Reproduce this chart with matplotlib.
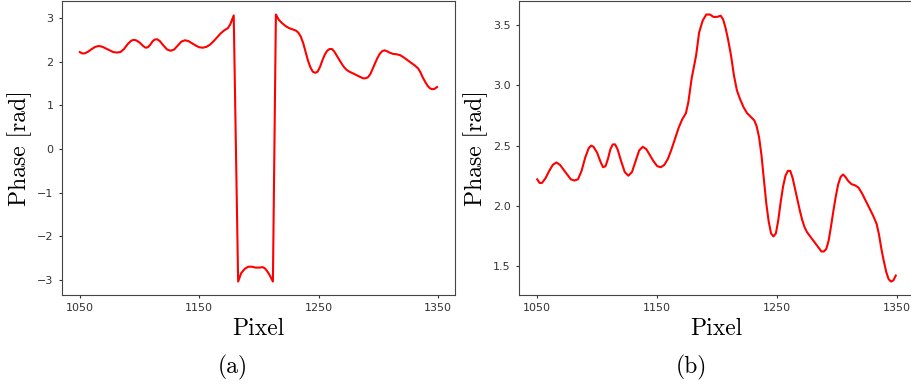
import numpy as np
import matplotlib
matplotlib.use("Agg")
import matplotlib.pyplot as plt

# unwrapped phase
pixel = [1050, 1052, 1054, 1057, 1060, 1063, 1066, 1069, 1072, 1075,
         1078, 1081, 1084, 1087, 1090, 1093, 1095, 1097, 1100, 1103,
         1105, 1107, 1109, 1111, 1113, 1115, 1117, 1120, 1123, 1126,
         1129, 1132, 1135, 1138, 1141, 1144, 1147, 1150, 1153, 1156,
         1159, 1162, 1165, 1168, 1171, 1174, 1176, 1178.8, 1182.5, 1185,
         1188, 1191, 1194, 1197, 1200, 1203, 1205, 1207, 1209, 1211.6,
         1214.1, 1216.5, 1219, 1222, 1225, 1228, 1231, 1233, 1235, 1237,
         1239, 1241, 1243, 1245, 1247, 1249, 1251, 1253, 1255, 1257,
         1259, 1261, 1263, 1265, 1267, 1269, 1271, 1273, 1275, 1278,
         1281, 1284, 1287, 1289, 1291, 1293, 1295, 1297, 1299, 1301,
         1303, 1305, 1307, 1309, 1312, 1315, 1318, 1321, 1324, 1327,
         1330, 1333, 1335, 1337, 1339, 1341, 1343, 1345, 1347, 1349]
phase = [2.22, 2.19, 2.19, 2.23, 2.29, 2.34, 2.36, 2.34, 2.30, 2.26,
         2.22, 2.21, 2.22, 2.29, 2.40, 2.48, 2.50, 2.49, 2.44, 2.36,
         2.32, 2.33, 2.39, 2.47, 2.51, 2.51, 2.47, 2.37, 2.28, 2.25,
         2.28, 2.37, 2.46, 2.49, 2.47, 2.42, 2.37, 2.33, 2.32, 2.34,
         2.39, 2.47, 2.56, 2.65, 2.72, 2.77, 2.86, 3.06, 3.25, 3.44,
         3.54, 3.59, 3.59, 3.57, 3.57, 3.58, 3.55, 3.48, 3.39, 3.25,
         3.08, 2.96, 2.89, 2.82, 2.77, 2.74, 2.71, 2.66, 2.57, 2.42,
         2.22, 2.02, 1.87, 1.77, 1.745, 1.77, 1.88, 2.03, 2.16, 2.25,
         2.29, 2.29, 2.23, 2.14, 2.05, 1.96, 1.88, 1.82, 1.78, 1.74,
         1.70, 1.66, 1.62, 1.62, 1.64, 1.71, 1.83, 1.96, 2.08, 2.18,
         2.24, 2.26, 2.24, 2.21, 2.18, 2.17, 2.15, 2.10, 2.04, 1.98,
         1.92, 1.85, 1.76, 1.64, 1.54, 1.45, 1.39, 1.37, 1.38, 1.42]

xticks = [1050, 1150, 1250, 1350]
panel_tags = ["(a)", "(b)"]

pixel = np.array(pixel)
phase = np.array(phase)
wrapped = np.angle(np.exp(1j * phase))  # panel (a): wrapped into (-pi, pi]

serif = "cmr10"
spine_col = "#444444"

fig = plt.figure(figsize=(9.11, 3.85), dpi=100)
ax1 = fig.add_axes([0.068, 0.234, 0.4314, 0.763])
ax2 = fig.add_axes([0.570, 0.234, 0.433, 0.763])

for ax, y in ((ax1, wrapped), (ax2, phase)):
    ax.plot(pixel, y, color="red", lw=1.5)
    ax.set_xticks(xticks)
    ax.set_xlabel("Pixel", fontsize=17, fontfamily=serif, labelpad=3)
    ax.set_ylabel("Phase [rad]", fontsize=17, fontfamily=serif)
    ax.tick_params(labelsize=8, colors="#333333", length=2.5, width=0.8)
    for s in ax.spines.values():
        s.set_color(spine_col)

ax1.set_yticks([-3, -2, -1, 0, 1, 2, 3])
ax2.set_yticks([1.5, 2.0, 2.5, 3.0, 3.5])

fig.text(233 / 911, 1 - 367 / 385, panel_tags[0], fontsize=17,
         fontfamily=serif, ha="center", va="center")
fig.text(691 / 911, 1 - 367 / 385, panel_tags[1], fontsize=17,
         fontfamily=serif, ha="center", va="center")

fig.savefig("out.png", dpi=100)
